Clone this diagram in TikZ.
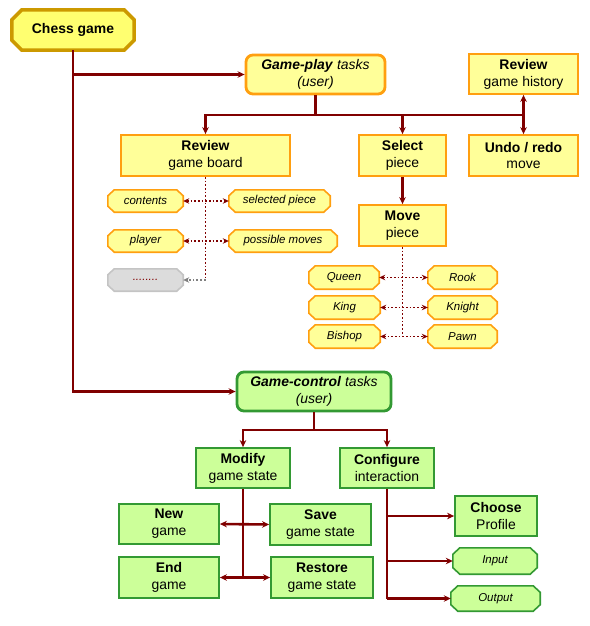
\documentclass[tikz,border=0pt]{standalone}
\usepackage{fontspec}
\setmainfont{Liberation Sans}
\usetikzlibrary{calc,backgrounds,arrows.meta}
\definecolor{yfill}{HTML}{FFFF99}
\definecolor{cfill}{HTML}{FFFF70}
\definecolor{cborder}{HTML}{CC9900}
\definecolor{oborder}{HTML}{FF9F10}
\definecolor{gfill}{HTML}{CCFF99}
\definecolor{gborder}{HTML}{339933}
\definecolor{grfill}{HTML}{DCDCDC}
\definecolor{grborder}{HTML}{C4C4C4}
\definecolor{lred}{HTML}{800000}
\tikzset{
  base/.style={inner sep=0pt, align=center, font=\fontsize{14}{17}\selectfont},
  ybox/.style={base, rectangle, draw=oborder, fill=yfill, line width=1.8bp},
  gbox/.style={base, rectangle, draw=gborder, fill=gfill, line width=1.8bp},
  oct/.style={rectangle, inner sep=0pt, font=\fontsize{11.5}{13}\selectfont\itshape},
  ylook/.style={draw=oborder, fill=yfill, line width=1.6bp},
  glook/.style={draw=gborder, fill=gfill, line width=1.6bp},
  grlook/.style={draw=grborder, fill=grfill, line width=1.6bp},
  clook/.style={draw=cborder, fill=cfill, line width=3.5bp},
  conn/.style={draw=lred, line width=2.6bp},
  arr/.style={conn, -{Stealth[length=7bp,width=6.5bp]}},
  darr/.style={conn, {Stealth[length=7bp,width=6.5bp]}-{Stealth[length=7bp,width=6.5bp]}},
  dconn/.style={draw=lred, line width=1.7bp, dotted},
  ddarr/.style={dconn, {Stealth[length=6bp,width=5.5bp]}-{Stealth[length=6bp,width=5.5bp]}},
}
\begin{document}
\begin{tikzpicture}[x=1bp,y=-1bp]
\useasboundingbox (0,0) rectangle (590,626);
% top
\node[base, minimum width=122bp, minimum height=40bp,
  font=\fontsize{14}{17}\selectfont\bfseries] (chess) at (73,30) {Chess game};
\node[ybox, rounded corners=7bp, line width=2.8bp, minimum width=139bp, minimum height=39bp] (gp) at (315.5,74.5)
  {\textbf{\textit{Game-play}} \textit{tasks}\\\textit{(user)}};
\node[ybox, minimum width=109bp, minimum height=40bp] (rgh) at (523.5,74) {\textbf{Review}\\game history};
\node[ybox, minimum width=169bp, minimum height=41bp] (rgb) at (205.5,155.5) {\textbf{Review}\\game board};
\node[ybox, minimum width=87bp, minimum height=41bp] (sel) at (402.5,155.5) {\textbf{Select}\\piece};
\node[ybox, minimum width=109bp, minimum height=41bp] (undo) at (523.5,155.5) {\textbf{Undo / redo}\\move};
\node[ybox, minimum width=87bp, minimum height=41bp] (mov) at (402.5,225.5) {\textbf{Move}\\piece};
% board items
\node[oct, minimum width=75bp, minimum height=22bp] (cont) at (145.5,201) {contents};
\node[oct, minimum width=101bp, minimum height=22bp] (selp) at (279.5,201) {selected piece};
\node[oct, minimum width=75bp, minimum height=22bp] (play) at (145.5,241) {player};
\node[oct, minimum width=108bp, minimum height=22bp] (posm) at (283,241) {possible moves};
\node[oct, minimum width=75bp, minimum height=22bp, text=lred] (dots) at (145.5,280) {........};
% pieces
\node[oct, minimum width=70bp, minimum height=23bp] (queen) at (344,277.5) {Queen};
\node[oct, minimum width=69bp, minimum height=23bp] (rook) at (462.5,277.5) {Rook};
\node[oct, minimum width=71bp, minimum height=23bp] (king) at (344.5,307.5) {King};
\node[oct, minimum width=69bp, minimum height=23bp] (knight) at (462.5,307.5) {Knight};
\node[oct, minimum width=71bp, minimum height=23bp] (bishop) at (344.5,336.5) {Bishop};
\node[oct, minimum width=69bp, minimum height=23bp] (pawn) at (462.5,336.5) {Pawn};
% game control
\node[gbox, rounded corners=7bp, line width=2.8bp, minimum width=154bp, minimum height=39bp] (gc) at (314,391.5)
  {\textbf{\textit{Game-control}} \textit{tasks}\\\textit{(user)}};
\node[gbox, minimum width=94bp, minimum height=40bp] (mod) at (243,468) {\textbf{Modify}\\game state};
\node[gbox, minimum width=94bp, minimum height=40bp] (conf) at (387,468) {\textbf{Configure}\\interaction};
\node[gbox, minimum width=100bp, minimum height=40bp] (new) at (169,524) {\textbf{New}\\game};
\node[gbox, minimum width=101bp, minimum height=41bp] (save) at (320.5,524.5) {\textbf{Save}\\game state};
\node[gbox, minimum width=100bp, minimum height=41bp] (end) at (169,577.5) {\textbf{End}\\game};
\node[gbox, minimum width=102bp, minimum height=41bp] (rest) at (322,577.5) {\textbf{Restore}\\game state};
\node[gbox, minimum width=82bp, minimum height=40bp] (choose) at (496,516) {\textbf{Choose}\\Profile};
\node[oct, minimum width=84bp, minimum height=26bp] (input) at (495,561) {Input};
\node[oct, minimum width=89bp, minimum height=25bp] (output) at (495.5,598.5) {Output};
% octagon outlines behind the texts
\begin{scope}[on background layer]
\foreach \n/\lk/\cx/\cy in {chess/clook/10/10, cont/ylook/6.5/6, selp/ylook/6.5/6, play/ylook/6.5/6,
    posm/ylook/6.5/6, dots/grlook/6.5/6, queen/ylook/6.5/6, rook/ylook/6.5/6, king/ylook/6.5/6,
    knight/ylook/6.5/6, bishop/ylook/6.5/6, pawn/ylook/6.5/6, input/glook/7/6.5, output/glook/7/6.5}
  \path[\lk] ($(\n.north west)+(\cx,0)$) -- ($(\n.north east)+(-\cx,0)$) -- ($(\n.north east)+(0,\cy)$)
    -- ($(\n.south east)+(0,-\cy)$) -- ($(\n.south east)+(-\cx,0)$) -- ($(\n.south west)+(\cx,0)$)
    -- ($(\n.south west)+(0,-\cy)$) -- ($(\n.north west)+(0,\cy)$) -- cycle;
\end{scope}
% connectors top
\draw[arr] (chess.south) |- (gp.west);
\draw[arr] (chess.south) |- (gc.west);
\coordinate (j1) at (gp.south |- 0,115);
\draw[conn] (gp.south) -- (j1);
\draw[arr] (j1) -| (rgb.north);
\draw[arr] (j1) -| (sel.north);
\draw[arr] (j1) -| (undo.north);
\draw[arr] (j1 -| rgh.south) -- (rgh.south);
\draw[arr] (sel.south) -- (mov.north);
% board dotted
\coordinate (b1) at (rgb.south |- dots.east);
\draw[dconn] (rgb.south) -- (b1);
\draw[ddarr] (cont.east) -- (selp.west);
\draw[ddarr] (play.east) -- (posm.west);
\draw[draw=gray, line width=1.7bp, dotted, -{Stealth[length=6bp,width=5.5bp]}] (b1) -- (dots.east);
% pieces dotted
\coordinate (p1) at (mov.south |- bishop.east);
\draw[dconn] (mov.south) -- (p1);
\draw[ddarr] (queen.east) -- (rook.west);
\draw[ddarr] (king.east) -- (knight.west);
\draw[ddarr] (bishop.east) -- (pawn.west);
% game control
\coordinate (j2) at (gc.south |- 0,430);
\draw[conn] (gc.south) -- (j2);
\draw[arr] (j2) -| (mod.north);
\draw[arr] (j2) -| (conf.north);
\draw[conn] (mod.south) -- (mod.south |- end.east);
\draw[darr] (new.east) -- (save.west);
\draw[darr] (end.east) -- (rest.west);
\draw[conn] (conf.south) -- (conf.south |- output.west);
\draw[arr] (conf.south |- choose.west) -- (choose.west);
\draw[arr] (conf.south |- input.west) -- (input.west);
\draw[arr] (conf.south |- output.west) -- (output.west);
\end{tikzpicture}
\end{document}
